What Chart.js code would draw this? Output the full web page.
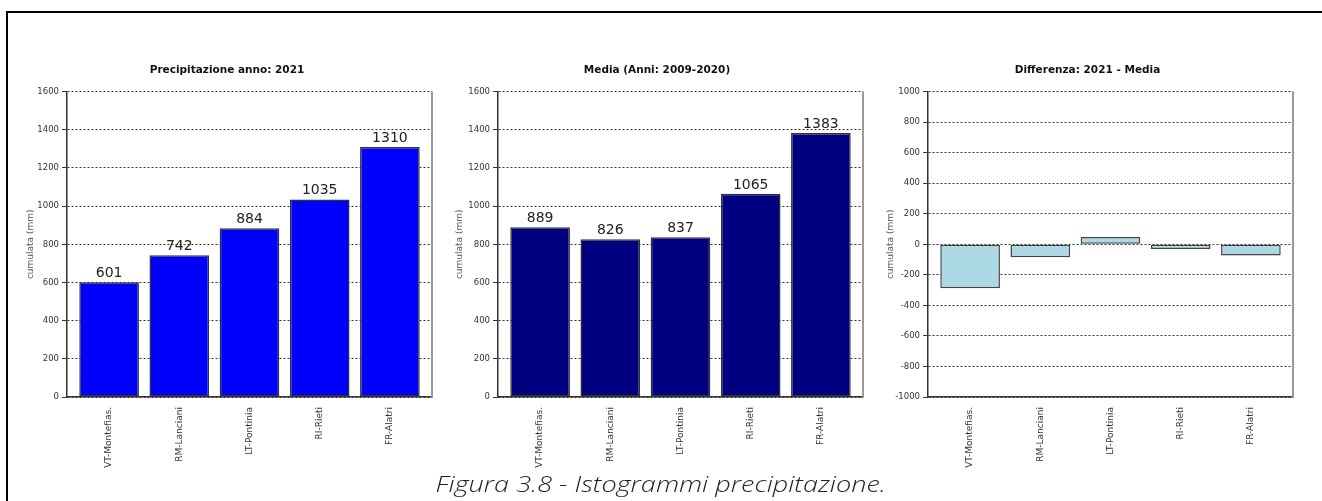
<!DOCTYPE html>
<html>
<head>
<meta charset="utf-8">
<script src="https://cdn.jsdelivr.net/npm/chart.js@4"></script>
<style>
  body { margin: 0; background: #fff; width: 1322px; height: 501px; overflow: hidden; position: relative; }
  #frame { position: absolute; left: 6px; top: 11px; right: 0; bottom: -5px; border-top: 2px solid #000; border-left: 2px solid #000; }
  canvas { position: absolute; }
  #caption { position: absolute; left: 0; width: 1322px; top: 468px; text-align: center; font-family: "Open Sans", sans-serif; font-style: italic; font-weight: 300; font-size: 22px; color: #222; transform: scaleX(1.23); transform-origin: 662px 0; }
</style>
</head>
<body>
<div id="frame"></div>
<canvas id="c1" width="416" height="417" style="left:22px; top:55px"></canvas>
<canvas id="c2" width="418" height="417" style="left:451px; top:55px"></canvas>
<canvas id="c3" width="417" height="417" style="left:882px; top:55px"></canvas>
<div id="caption">Figura 3.8 - Istogrammi precipitazione.</div>
<script>
//Data_
const stazioni = ['VT-Montefias.', 'RM-Lanciani', 'LT-Pontinia', 'RI-Rieti', 'FR-Alatri'];
const prec2021 = [601, 742, 884, 1035, 1310];
const media = [889, 826, 837, 1065, 1383];
const differenza = [-288, -84, 47, -30, -73];
const titoli = ['Precipitazione anno: 2021', 'Media (Anni: 2009-2020)', 'Differenza: 2021 - Media'];
const yLabel = 'cumulata (mm)';

//Plugins_
const valueLabels = {
    id: 'valueLabels',
    afterDatasetsDraw(chart, args, opts) {
        if (!opts.show) return;
        const ctx = chart.ctx;
        const meta = chart.getDatasetMeta(0);
        ctx.save();
        ctx.font = '14px "DejaVu Sans"';
        ctx.fillStyle = '#222';
        ctx.textAlign = 'center';
        ctx.textBaseline = 'alphabetic';
        meta.data.forEach((bar, i) => {
            ctx.fillText(chart.data.datasets[0].data[i].y, bar.x, bar.y - 5);
        });
        ctx.restore();
    }
};

const rightBorder = {
    id: 'rightBorder',
    afterDraw(chart) {
        const a = chart.chartArea;
        const ctx = chart.ctx;
        ctx.save();
        ctx.strokeStyle = '#999';
        ctx.lineWidth = 2;
        ctx.beginPath();
        ctx.moveTo(a.right, a.top);
        ctx.lineTo(a.right, a.bottom);
        ctx.stroke();
        ctx.restore();
    }
};

//Functions_
function makeChart(id, titolo, valori, colore, bordo, yMin, yMax, axisWidth, labels) {
    return new Chart(document.getElementById(id), {
        type: 'bar',
        data: {
            datasets: [{
                data: valori.map((v, i) => ({ x: i, y: v })),
                backgroundColor: colore,
                borderColor: bordo,
                borderWidth: 1.5,
                borderSkipped: false,
                barPercentage: 0.85,
                categoryPercentage: 1.0
            }]
        },
        options: {
            responsive: false,
            animation: false,
            devicePixelRatio: 1,
            layout: { padding: { left: 0, right: 6, top: 0, bottom: 0 } },
            plugins: {
                legend: { display: false },
                tooltip: { enabled: false },
                title: {
                    display: true,
                    text: titolo,
                    color: '#111',
                    font: { family: 'DejaVu Sans', size: 10.5, weight: 'bold' },
                    padding: { top: 9, bottom: 15 }
                },
                valueLabels: { show: labels }
            },
            scales: {
                x: {
                    type: 'linear',
                    min: -0.6, max: stazioni.length - 0.4,
                    offset: false,
                    grid: { display: false, drawTicks: false },
                    border: { display: true, color: '#333', width: 1.5 },
                    ticks: {
                        autoSkip: false,
                        minRotation: 90, maxRotation: 90, padding: 10,
                        color: '#333', font: { family: 'DejaVu Sans', size: 9 },
                        callback: (v) => stazioni[v]
                    },
                    afterBuildTicks: (s) => { s.ticks = stazioni.map((_, i) => ({ value: i })); },
                    afterFit: (s) => { s.height = 75; }
                },
                y: {
                    min: yMin, max: yMax,
                    grid: { color: '#333', lineWidth: 1, tickLength: 5, tickColor: '#333' },
                    border: { display: true, color: '#333', width: 1.5, dash: [2, 2] },
                    ticks: {
                        stepSize: 200, padding: 3,
                        color: '#333', font: { family: 'DejaVu Sans', size: 8.5 },
                        callback: (v) => String(v)
                    },
                    title: {
                        display: true, text: yLabel, color: '#555',
                        font: { family: 'DejaVu Sans', size: 9 },
                        padding: { top: 3, bottom: 3 }
                    },
                    afterFit: (s) => { s.width = axisWidth; }
                }
            }
        },
        plugins: [valueLabels, rightBorder]
    });
}

//FunctionCall_
makeChart('c1', titoli[0], prec2021, '#0000ff', '#333', 0, 1600, 45, true);
makeChart('c2', titoli[1], media, '#000080', '#333', 0, 1600, 47, true);
makeChart('c3', titoli[2], differenza, '#add8e6', '#444', -1000, 1000, 46, false);
</script>
</body>
</html>
